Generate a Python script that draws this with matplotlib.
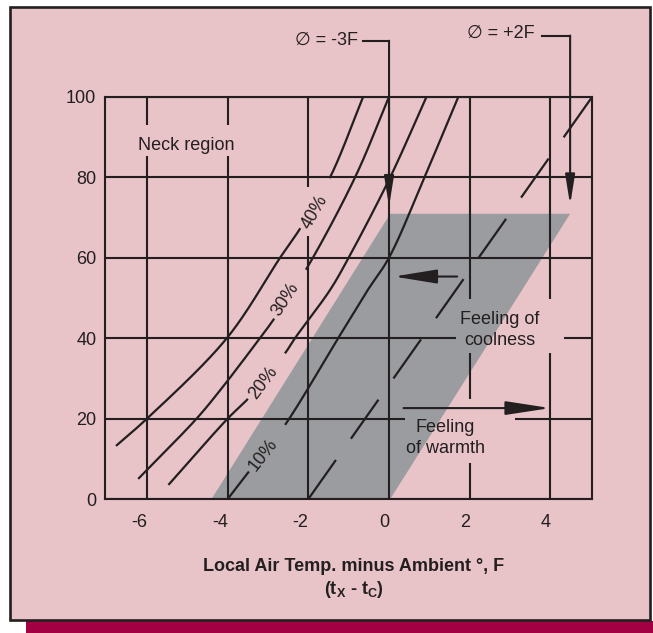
import numpy as np
import matplotlib
matplotlib.use('Agg')
import matplotlib.pyplot as plt
from matplotlib.patches import Rectangle, Polygon
import matplotlib.transforms as mtransforms

plt.rcParams['font.family'] = ['Liberation Sans', 'DejaVu Sans']
plt.rcParams['axes.unicode_minus'] = False

PINK = '#e8c3c8'
GRAY = '#9b9c9f'
DARK = '#231f20'
CRIMSON = '#a30044'

# ---------------- data ----------------
x_ticks = [-6, -4, -2, 0, 2, 4]
y_ticks = [0, 20, 40, 60, 80, 100]
x_tick_labels = ['-6', '-4', '-2', '0', '2', '4']
y_tick_labels = ['0', '20', '40', '60', '80', '100']

curve40_x = [-6.77, -6.0, -4.02, -2.7, -2.2, -1.46, -0.64]
curve40_y = [13.2, 20.0, 40.0, 60.0, 67.3, 80.0, 100.0]
curve30_x = [-6.22, -4.77, -4.19, -3.2, -2.87, -2.06, -0.84, 0.0]
curve30_y = [5.0, 20.0, 27.0, 40.0, 44.5, 57.0, 80.0, 100.0]
curve20_x = [-5.47, -4.0, -3.49, -2.58, -2.33, -1.46, -1.0, 0.03, 0.93]
curve20_y = [3.5, 20.0, 25.0, 36.2, 40.0, 52.0, 60.0, 80.0, 100.0]
curve10_x = [-4.0, -3.5, -2.62, -1.26, -0.55, 0.0, 0.88, 1.72]
curve10_y = [0.0, 6.5, 17.8, 40.0, 51.6, 60.0, 80.0, 100.0]

curve_labels = ['40%', '30%', '20%', '10%']
label_x = [-1.83, -2.58, -3.12, -3.12]
label_y = [71.4, 49.5, 28.8, 10.9]
label_rot = [60, 57, 53, 52]

dashed_x = [-2.0, 5.04]
dashed_y = [0.0, 100.0]

shade_x = [-4.40, 0.03, 4.49, 0.03]
shade_y = [0.0, 0.0, 70.9, 70.9]

cool_arrow_x = [1.69, 0.12]
cool_arrow_y = [55.3, 55.3]
warm_arrow_x = [0.36, 4.0]
warm_arrow_y = [22.6, 22.6]

phi_labels = ['\u2205 = -3F', '\u2205 = +2F']
phi_text_x = [-0.77, 3.62]
phi_text_y = [114.1, 115.8]
phi_line_start = [-0.656, 3.787]
phi_line_y = [113.9, 115.2]
phi_x = [0.0, 4.49]
phi_tip_y = [72.7, 73.1]

# ---------------- figure ----------------
W, H = 653, 633
fig = plt.figure(figsize=(W / 100, H / 100), dpi=100)
fig.patch.set_facecolor('white')

band = Rectangle((26 / W, 0), 627 / W, 12 / H, transform=fig.transFigure,
                 fc=CRIMSON, ec='none', zorder=-2)
fig.add_artist(band)
frame = Rectangle((10 / W, (H - 620) / H), 640 / W, 613 / H, transform=fig.transFigure,
                  fc=PINK, ec=DARK, lw=1.9, zorder=-1)
fig.add_artist(frame)

ax = fig.add_axes([104.7 / W, (H - 499) / H, 487.6 / W, 402.3 / H])
ax.set_facecolor('none')
ax.set_xlim(-7.05, 5.04)
ax.set_ylim(0, 100)
ax.set_axisbelow(False)
for s in ax.spines.values():
    s.set_color(DARK)
    s.set_linewidth(1.5)

ax.set_xticks(x_ticks)
ax.set_xticklabels(x_tick_labels)
ax.set_yticks(y_ticks)
ax.set_yticklabels(y_tick_labels)
ax.tick_params(axis='both', length=0, labelsize=13, labelcolor=DARK)
ax.tick_params(axis='x', pad=11)
ax.tick_params(axis='y', pad=6)
for lbl in ax.get_xticklabels():
    lbl.set_ha('right')
ax.grid(True, color=DARK, lw=1.5)

poly = Polygon(np.column_stack([shade_x, shade_y]), closed=True, fc=GRAY, ec='none', zorder=1)
ax.add_patch(poly)


def smooth_display(P, n=60):
    """Centripetal Catmull-Rom rendering through the read points (display coords)."""
    P = np.asarray(P, float)
    ext = np.vstack([2 * P[0] - P[1], P, 2 * P[-1] - P[-2]])
    out = [P[0]]
    for i in range(1, len(ext) - 2):
        p0, p1, p2, p3 = ext[i - 1], ext[i], ext[i + 1], ext[i + 2]
        t0 = 0.0
        t1 = t0 + np.linalg.norm(p1 - p0) ** 0.5
        t2 = t1 + np.linalg.norm(p2 - p1) ** 0.5
        t3 = t2 + np.linalg.norm(p3 - p2) ** 0.5
        t = np.linspace(t1, t2, n)[1:, None]
        A1 = (t1 - t) / (t1 - t0) * p0 + (t - t0) / (t1 - t0) * p1
        A2 = (t2 - t) / (t2 - t1) * p1 + (t - t1) / (t2 - t1) * p2
        A3 = (t3 - t) / (t3 - t2) * p2 + (t - t2) / (t3 - t2) * p3
        B1 = (t2 - t) / (t2 - t0) * A1 + (t - t0) / (t2 - t0) * A2
        B2 = (t3 - t) / (t3 - t1) * A2 + (t - t1) / (t3 - t1) * A3
        C = (t2 - t) / (t2 - t1) * B1 + (t - t1) / (t2 - t1) * B2
        out.extend(C)
    return np.array(out)


# curves with gaps around inline labels
def draw_curve(xs, ys, lx, ly, rot):
    xy = ax.transData.transform(np.column_stack([xs, ys]))
    pts = smooth_display(xy)
    c = ax.transData.transform((lx, ly))
    ang = np.deg2rad(rot)
    c = c + 7.5 * np.array([np.cos(ang), np.sin(ang)])
    d = np.hypot(pts[:, 0] - c[0], pts[:, 1] - c[1])
    pts[d < 29] = np.nan
    data = ax.transData.inverted().transform(pts)
    ax.plot(data[:, 0], data[:, 1], color=DARK, lw=1.6, zorder=4, solid_capstyle='butt')


curves = [(curve40_x, curve40_y), (curve30_x, curve30_y),
          (curve20_x, curve20_y), (curve10_x, curve10_y)]
label_texts = []
for (cx, cy), lab, lx, ly, rot in zip(curves, curve_labels, label_x, label_y, label_rot):
    draw_curve(cx, cy, lx, ly, rot)
    t = ax.text(lx, ly, lab, rotation=rot, rotation_mode='anchor', ha='center',
                va='center', fontsize=13, color=DARK, zorder=6)
    label_texts.append(t)

ax.plot(dashed_x, dashed_y, color=DARK, lw=1.6, dashes=(21.5, 11.7), zorder=4)


def arrow(x0, y0, x1, y1, hl, hw):
    ax.annotate('', xy=(x1, y1), xytext=(x0, y0),
                arrowprops=dict(arrowstyle=f'-|>,head_length={hl},head_width={hw}',
                                color=DARK, lw=1.5, shrinkA=0, shrinkB=0,
                                mutation_scale=1),
                annotation_clip=False, zorder=5)


arrow(cool_arrow_x[0], cool_arrow_y[0], cool_arrow_x[1], cool_arrow_y[1], 26.4, 4.3)
arrow(warm_arrow_x[0], warm_arrow_y[0], warm_arrow_x[1], warm_arrow_y[1], 27.4, 4.2)

for lab, tx, ty, ls, ly, px, tip in zip(phi_labels, phi_text_x, phi_text_y, phi_line_start,
                                        phi_line_y, phi_x, phi_tip_y):
    ax.text(tx, ty, lab, ha='right', va='center', fontsize=13, color=DARK,
            family=['Liberation Sans', 'DejaVu Sans'])
    ax.plot([ls, px], [ly, ly], color=DARK, lw=1.5, clip_on=False, zorder=5,
            solid_capstyle='projecting')
    arrow(px, ly, px, tip, 18.0, 2.9)

neck = ax.text(-5.04, 87.8, 'Neck region', ha='center', va='center', fontsize=13,
               color=DARK, zorder=6)
cool = ax.text(2.75, 42.0, 'Feeling of\ncoolness', ha='center', va='center', fontsize=13,
               color=DARK, linespacing=1.3, multialignment='center', zorder=6)
warm = ax.text(1.39, 15.2, 'Feeling\nof warmth', ha='center', va='center', fontsize=13,
               color=DARK, linespacing=1.3, multialignment='center', zorder=6)

fig.text(354 / W, 1 - 566.7 / H, 'Local Air Temp. minus Ambient \u00b0, F', ha='center',
         va='center', fontsize=13, weight='bold', color=DARK)
fig.text(354 / W, 1 - 590 / H, r'(t$_\mathregular{X}$ - t$_\mathregular{C}$)', ha='center',
         va='center', fontsize=13, weight='bold', color=DARK)

# knock-outs of the grid behind text
fig.canvas.draw()
renderer = fig.canvas.get_renderer()


def knockout(t, pl, pr, pt, pb):
    bb = t.get_window_extent(renderer)
    x0, y0 = bb.x0 - pl, bb.y0 - pb
    w = bb.width + pl + pr
    h = bb.height + pt + pb
    r1 = Rectangle((x0, y0), w, h, transform=mtransforms.IdentityTransform(),
                   fc=PINK, ec='none', zorder=2.7)
    ax.add_patch(r1)
    r2 = Rectangle((x0, y0), w, h, transform=mtransforms.IdentityTransform(),
                   fc=GRAY, ec='none', zorder=2.71)
    ax.add_patch(r2)
    r2.set_clip_path(poly)


knockout(neck, 5, 5, 12, 2)
knockout(cool, 4, 24, 12, 4)
knockout(warm, 1, 30, 20, 6)
knockout(label_texts[0], 2, 2, 5, 4)

fig.savefig('out.png', dpi=100, facecolor='white')
